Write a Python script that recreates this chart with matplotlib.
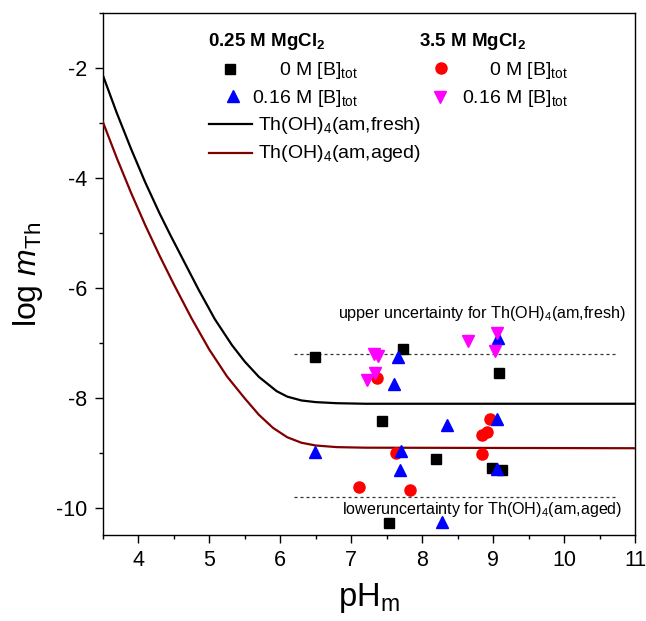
import matplotlib
matplotlib.use("Agg")
import matplotlib.pyplot as plt
from matplotlib.ticker import MultipleLocator

plt.rcParams['font.family'] = ['Liberation Sans', 'DejaVu Sans']
plt.rcParams['mathtext.fontset'] = 'custom'
plt.rcParams['mathtext.rm'] = 'Liberation Sans'
plt.rcParams['mathtext.it'] = 'Liberation Sans:italic'
plt.rcParams['mathtext.bf'] = 'Liberation Sans:bold'
plt.rcParams['axes.unicode_minus'] = False

# ---- solubility curves (pH_m, log m_Th) ----
fresh_ph = [3.50, 3.70, 3.90, 4.10, 4.30, 4.45, 4.65, 4.85, 5.08, 5.32, 5.50,
            5.70, 5.95, 6.10, 6.30, 6.50, 6.80, 7.20, 11.0]
fresh_log = [-2.12, -2.82, -3.47, -4.08, -4.64, -5.03, -5.53, -6.03, -6.57, -7.04, -7.34,
             -7.62, -7.88, -7.98, -8.05, -8.08, -8.10, -8.11, -8.11]

aged_ph = [3.50, 3.70, 3.90, 4.10, 4.30, 4.50, 4.75, 5.00, 5.25, 5.50, 5.70,
           5.90, 6.10, 6.30, 6.50, 6.80, 7.20, 11.0]
aged_log = [-2.97, -3.64, -4.27, -4.86, -5.41, -5.93, -6.55, -7.12, -7.61, -8.01, -8.31,
            -8.55, -8.72, -8.82, -8.87, -8.90, -8.91, -8.92]

# ---- experimental data ----
# 0.25 M MgCl2, 0 M [B]tot
mg025_b0_ph = [6.49, 7.73, 9.09, 7.43, 8.19, 8.99, 9.12, 7.53]
mg025_b0_log = [-7.26, -7.11, -7.55, -8.43, -9.12, -9.28, -9.31, -10.29]
# 0.25 M MgCl2, 0.16 M [B]tot
mg025_b16_ph = [6.49, 7.66, 7.61, 9.07, 8.35, 9.06, 7.70, 7.69, 9.06, 8.28]
mg025_b16_log = [-8.99, -7.26, -7.75, -6.91, -8.50, -8.39, -8.97, -9.31, -9.29, -10.27]
# 3.5 M MgCl2, 0 M [B]tot
mg35_b0_ph = [7.37, 8.95, 8.84, 8.91, 8.85, 7.63, 7.11, 7.83]
mg35_b0_log = [-7.65, -8.38, -8.67, -8.62, -9.02, -9.01, -9.62, -9.68]
# 3.5 M MgCl2, 0.16 M [B]tot
mg35_b16_ph = [7.32, 7.385, 7.33, 7.22, 8.65, 9.06, 9.03]
mg35_b16_log = [-7.21, -7.24, -7.55, -7.67, -6.97, -6.83, -7.15]

# uncertainty limits
unc_ph = [6.19, 10.76]
upper_unc = -7.2
lower_unc = -9.8

fig = plt.figure(figsize=(6.46, 6.21), dpi=100)
ax = fig.add_axes([0.159, 0.1385, 0.824, 0.840])

ax.plot(unc_ph, [upper_unc] * 2, color='#333333', lw=0.9, ls=(0, (2.4, 2.4)), zorder=2)
ax.plot(unc_ph, [lower_unc] * 2, color='#333333', lw=0.9, ls=(0, (2.4, 2.4)), zorder=2)

ax.plot(fresh_ph, fresh_log, color='black', lw=1.6, zorder=3, solid_joinstyle='round')
ax.plot(aged_ph, aged_log, color='#800000', lw=1.6, zorder=3, solid_joinstyle='round')

ax.plot(mg025_b0_ph, mg025_b0_log, ls='none', marker='s', ms=7.2, color='black', zorder=4)
ax.plot(mg35_b0_ph, mg35_b0_log, ls='none', marker='o', ms=8.0, color='#ff0000', zorder=5)
ax.plot(mg025_b16_ph, mg025_b16_log, ls='none', marker='^', ms=8.8, color='#0000ff', zorder=6)
ax.plot(mg35_b16_ph, mg35_b16_log, ls='none', marker='v', ms=8.8, color='#ff00ff', zorder=7)

ax.text(10.87, -6.55, 'upper uncertainty for Th(OH)$_{\\mathrm{4}}$(am,fresh)',
        ha='right', va='baseline', fontsize=11.6)
ax.text(10.82, -10.12, 'loweruncertainty for Th(OH)$_{\\mathrm{4}}$(am,aged)',
        ha='right', va='baseline', fontsize=11.6)

ax.set_xlim(3.5, 11)
ax.set_ylim(-10.5, -1)
ax.xaxis.set_major_locator(MultipleLocator(1))
ax.xaxis.set_minor_locator(MultipleLocator(0.5))
ax.yaxis.set_major_locator(MultipleLocator(2))
ax.yaxis.set_minor_locator(MultipleLocator(1))
ax.tick_params(which='major', direction='out', length=6, width=1.0, labelsize=15.5, pad=5)
ax.tick_params(which='minor', direction='out', length=3, width=1.0)
for s in ax.spines.values():
    s.set_linewidth(1.0)

ax.set_xlabel('pH$_{\\mathrm{m}}$', fontsize=23.5, labelpad=7)
ax.set_ylabel('log $m$$_{\\mathrm{Th}}$', fontsize=23, labelpad=8)

# ---- legend ----
T = ax.transAxes
ax.text(0.198, 0.937, '0.25 M MgCl$_{\\mathbf{2}}$', transform=T, fontsize=13.5,
        fontweight='bold', va='baseline', ha='left')
ax.text(0.595, 0.937, '3.5 M MgCl$_{\\mathbf{2}}$', transform=T, fontsize=13.5,
        fontweight='bold', va='baseline', ha='left')

leg_fs = 14
ax.plot([0.240], [0.893], transform=T, marker='s', ms=7.0, color='black', ls='none', clip_on=False)
ax.text(0.480, 0.882, '0 M [B]$_{\\mathrm{tot}}$', transform=T, fontsize=leg_fs, ha='right', va='baseline')
ax.plot([0.245], [0.842], transform=T, marker='^', ms=8.5, color='#0000ff', ls='none', clip_on=False)
ax.text(0.480, 0.8285, '0.16 M [B]$_{\\mathrm{tot}}$', transform=T, fontsize=leg_fs, ha='right', va='baseline')
ax.plot([0.200, 0.280], [0.787, 0.787], transform=T, color='black', lw=1.6)
ax.text(0.292, 0.776, 'Th(OH)$_{\\mathrm{4}}$(am,fresh)', transform=T, fontsize=leg_fs, ha='left', va='baseline')
ax.plot([0.200, 0.280], [0.733, 0.733], transform=T, color='#800000', lw=1.6)
ax.text(0.292, 0.722, 'Th(OH)$_{\\mathrm{4}}$(am,aged)', transform=T, fontsize=leg_fs, ha='left', va='baseline')

ax.plot([0.635], [0.8946], transform=T, marker='o', ms=8.0, color='#ff0000', ls='none', clip_on=False)
ax.text(0.875, 0.882, '0 M [B]$_{\\mathrm{tot}}$', transform=T, fontsize=leg_fs, ha='right', va='baseline')
ax.plot([0.634], [0.839], transform=T, marker='v', ms=8.5, color='#ff00ff', ls='none', clip_on=False)
ax.text(0.875, 0.8285, '0.16 M [B]$_{\\mathrm{tot}}$', transform=T, fontsize=leg_fs, ha='right', va='baseline')

fig.savefig('out.png', dpi=100)
